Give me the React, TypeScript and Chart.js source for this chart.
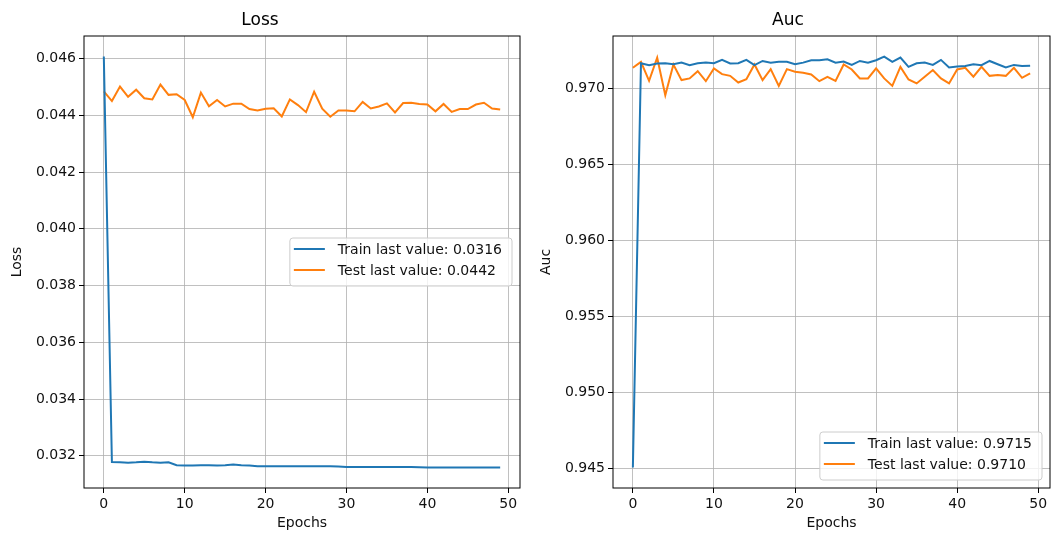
import React, { useEffect, useRef } from "react";
import { Chart, registerables } from "chart.js";

Chart.register(...registerables);

const FONT = "'DejaVu Sans', 'Liberation Sans', sans-serif";

const epochTicks = [0, 10, 20, 30, 40, 50];
const lossTicks = [0.032, 0.034, 0.036, 0.038, 0.04, 0.042, 0.044, 0.046];
const aucTicks = [0.945, 0.95, 0.955, 0.96, 0.965, 0.97];

const trainLoss = [
  0.04607, 0.03178, 0.03177, 0.03176, 0.03177, 0.03179, 0.03177, 0.03176, 0.03177, 0.03167,
  0.03166, 0.03166, 0.03167, 0.03167, 0.03166, 0.03167, 0.03169, 0.03167, 0.03166, 0.03163,
  0.03163, 0.03163, 0.03163, 0.03163, 0.03163, 0.03163, 0.03163, 0.03163, 0.03163, 0.03162,
  0.03161, 0.03161, 0.03161, 0.03161, 0.03161, 0.03161, 0.03161, 0.03161, 0.03161, 0.0316,
  0.03159, 0.03159, 0.03159, 0.03159, 0.03159, 0.03159, 0.03159, 0.03159, 0.03159, 0.03159,
];
const testLoss = [
  0.04484, 0.0445, 0.04501, 0.04465, 0.0449, 0.0446, 0.04456, 0.04508, 0.04472, 0.04474,
  0.04454, 0.04393, 0.0448, 0.04432, 0.04454, 0.04431, 0.04441, 0.04441, 0.04422, 0.04417,
  0.04423, 0.04425, 0.04396, 0.04456, 0.04436, 0.04411, 0.04483, 0.04423, 0.04395, 0.04417,
  0.04417, 0.04414, 0.04447, 0.04424, 0.04431, 0.04442, 0.0441, 0.04443, 0.04444, 0.0444,
  0.04438, 0.04414, 0.0444, 0.04412, 0.04422, 0.04422, 0.04438, 0.04444, 0.04424, 0.0442,
];
const trainAuc = [
  0.94508, 0.97168, 0.97155, 0.97166, 0.97168, 0.97161, 0.97172, 0.97155, 0.97168, 0.97172,
  0.97168, 0.9719, 0.97166, 0.97168, 0.9719, 0.97155, 0.97183, 0.97172, 0.97177, 0.97177,
  0.97161, 0.97172, 0.97188, 0.97188, 0.97194, 0.97172, 0.97179, 0.97157, 0.97183, 0.97172,
  0.97188, 0.97212, 0.97177, 0.97205, 0.97144, 0.97168, 0.97172, 0.97157, 0.9719, 0.9714,
  0.97146, 0.9715, 0.97161, 0.97155, 0.97183, 0.97161, 0.9714, 0.97157, 0.9715, 0.97152,
];
const testAuc = [
  0.97138, 0.97177, 0.97052, 0.97204, 0.96958, 0.9716, 0.97057, 0.97068, 0.97116, 0.9705,
  0.97134, 0.97096, 0.97085, 0.97041, 0.97063, 0.9716, 0.97057, 0.97129, 0.97019, 0.97129,
  0.97112, 0.97105, 0.97094, 0.9705, 0.97079, 0.97052, 0.9716, 0.97127, 0.97068, 0.97068,
  0.97134, 0.97068, 0.97019, 0.97144, 0.97061, 0.97035, 0.97079, 0.97123, 0.97068, 0.97035,
  0.97127, 0.97138, 0.97079, 0.97144, 0.97085, 0.9709, 0.97085, 0.97138, 0.97072, 0.97102,
];

const BLUE = "#1f77b4";
const ORANGE = "#ff7f0e";

const framePlugin = {
  id: "mplFrame",
  afterDatasetsDraw(chart: any) {
    const { ctx, chartArea: a } = chart;
    ctx.save();
    ctx.strokeStyle = "#000";
    ctx.lineWidth = 1;
    ctx.strokeRect(a.left, a.top, a.right - a.left, a.bottom - a.top);
    ctx.restore();
  },
};

const legendPlugin = {
  id: "mplLegend",
  afterDraw(chart: any, _args: any, opts: any) {
    if (!opts || !opts.loc) return;
    const { ctx, chartArea: a } = chart;
    ctx.save();
    ctx.font = `14px ${FONT}`;
    const items = chart.data.datasets.map((d: any) => ({ label: d.label, color: d.borderColor }));
    const textW = Math.max(...items.map((i: any) => ctx.measureText(i.label).width));
    const w = 48 + textW + 10;
    const h = 48;
    const x = a.right - 8 - w;
    const y = opts.loc === "center right" ? (a.top + a.bottom) / 2 - h / 2 : a.bottom - 8 - h;
    ctx.beginPath();
    ctx.roundRect(x, y, w, h, 3);
    ctx.fillStyle = "rgba(255,255,255,0.8)";
    ctx.fill();
    ctx.strokeStyle = "#cccccc";
    ctx.lineWidth = 1;
    ctx.stroke();
    items.forEach((it: any, k: number) => {
      const cy = y + 11 + k * 21;
      ctx.beginPath();
      ctx.moveTo(x + 4, cy);
      ctx.lineTo(x + 35, cy);
      ctx.strokeStyle = it.color;
      ctx.lineWidth = 2;
      ctx.stroke();
      ctx.fillStyle = "#111";
      ctx.textBaseline = "middle";
      ctx.textAlign = "left";
      ctx.fillText(it.label, x + 48, cy + 1);
    });
    ctx.restore();
  },
};

function makeConfig(
  title: string,
  train: number[],
  test: number[],
  yTicks: number[],
  yTitle: string,
  yWidth: number,
  yTitlePad: number,
  rightPad: number,
  legendLoc: string
): any {
  const all = train.concat(test);
  const lo = Math.min(...all);
  const hi = Math.max(...all);
  const m = (hi - lo) * 0.05;
  const n = train.length - 1;
  const pts = (arr: number[]) => arr.map((v, i) => ({ x: i, y: v }));
  const tickFont = { family: FONT, size: 14 };
  return {
    type: "line",
    data: {
      datasets: [
        {
          label: `Train last value: ${train[train.length - 1].toFixed(4)}`,
          data: pts(train),
          borderColor: BLUE,
          backgroundColor: BLUE,
          borderWidth: 2,
          pointRadius: 0,
          tension: 0,
        },
        {
          label: `Test last value: ${test[test.length - 1].toFixed(4)}`,
          data: pts(test),
          borderColor: ORANGE,
          backgroundColor: ORANGE,
          borderWidth: 2,
          pointRadius: 0,
          tension: 0,
        },
      ],
    },
    options: {
      animation: false,
      responsive: false,
      layout: { padding: { left: 0, right: rightPad, top: 0, bottom: 0 } },
      plugins: {
        legend: { display: false },
        tooltip: { enabled: false },
        title: {
          display: true,
          text: title,
          color: "#000",
          font: { family: FONT, size: 17, weight: "normal" },
          padding: { top: 10, bottom: 5.6 },
        },
        mplLegend: { loc: legendLoc },
      },
      scales: {
        x: {
          type: "linear",
          min: -0.05 * n,
          max: n * 1.05,
          afterBuildTicks: (axis: any) => {
            axis.ticks = epochTicks.map((v) => ({ value: v }));
          },
          afterFit: (scale: any) => {
            scale.height = 47;
          },
          ticks: {
            autoSkip: false,
            maxRotation: 0,
            color: "#111",
            font: tickFont,
            padding: 3,
            callback: (v: any) => String(v),
          },
          grid: { color: "#b0b0b0", lineWidth: 0.8, tickColor: "#000", tickLength: 5, tickWidth: 1 },
          border: { display: false },
          title: {
            display: true,
            text: "Epochs",
            color: "#111",
            font: { family: FONT, size: 14 },
            padding: { top: 0, bottom: 3.6 },
          },
        },
        y: {
          type: "linear",
          min: lo - m,
          max: hi + m,
          afterBuildTicks: (axis: any) => {
            axis.ticks = yTicks.map((v) => ({ value: v }));
          },
          afterFit: (scale: any) => {
            scale.width = yWidth;
          },
          ticks: {
            autoSkip: false,
            color: "#111",
            font: tickFont,
            padding: 3,
            callback: (v: any) => Number(v).toFixed(3),
          },
          grid: { color: "#b0b0b0", lineWidth: 0.8, tickColor: "#000", tickLength: 5, tickWidth: 1 },
          border: { display: false },
          title: {
            display: true,
            text: yTitle,
            color: "#111",
            font: { family: FONT, size: 14 },
            padding: { top: yTitlePad, bottom: 0 },
          },
        },
      },
    },
    plugins: [framePlugin, legendPlugin],
  };
}

export default function App() {
  const leftRef = useRef<HTMLCanvasElement>(null);
  const rightRef = useRef<HTMLCanvasElement>(null);

  useEffect(() => {
    const c1 = new Chart(
      leftRef.current as HTMLCanvasElement,
      makeConfig("Loss", trainLoss, testLoss, lossTicks, "Loss", 84, 8.6, 6, "center right")
    );
    const c2 = new Chart(
      rightRef.current as HTMLCanvasElement,
      makeConfig("Auc", trainAuc, testAuc, aucTicks, "Auc", 87, 11.6, 2, "lower right")
    );
    return () => {
      c1.destroy();
      c2.destroy();
    };
  }, []);

  return (
    <div style={{ position: "fixed", left: 0, top: 0, width: 1052, height: 535, background: "#fff" }}>
      <canvas
        ref={leftRef}
        width={526}
        height={535}
        style={{ position: "absolute", left: 0, top: 0, width: 526, height: 535 }}
      />
      <canvas
        ref={rightRef}
        width={526}
        height={535}
        style={{ position: "absolute", left: 526, top: 0, width: 526, height: 535 }}
      />
    </div>
  );
}
